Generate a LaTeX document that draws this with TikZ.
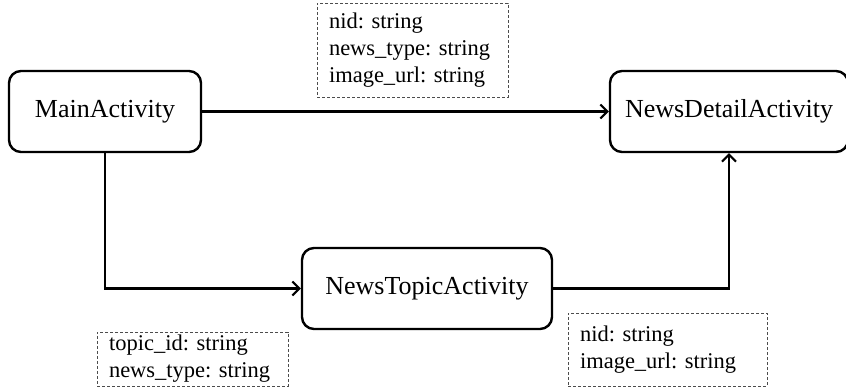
\documentclass[tikz,border=0pt]{standalone}
\usepackage{fontspec}
\setmainfont{Liberation Serif}
\usetikzlibrary{arrows.meta,positioning}
\frenchspacing

\begin{document}
\begin{tikzpicture}[x=1pt, y=-1pt,
    activity/.style={draw, line width=2.4pt, rounded corners=12pt, minimum height=81pt,
        font=\fontsize{26}{31}\selectfont},
    param/.style={draw=black!70, densely dashed, line width=0.8pt, inner xsep=12pt,
        align=left, font=\fontsize{22.5}{27}\selectfont},
    conn/.style={line width=2.4pt, -{Straight Barb[length=7pt, width=14pt, line width=2pt]}}]
    \useasboundingbox (0,0) rectangle (846,390);

    % activities
    \node[activity, minimum width=192pt] (main) at (105, 111.5) {MainActivity};
    \node[activity, minimum width=238pt] (detail) at (729, 111.5) {NewsDetailActivity};
    \node[activity, minimum width=250pt] (topic) at (427, 288.5) {NewsTopicActivity};

    % intent extras
    \node[param, minimum width=191pt, minimum height=94pt, text width=167pt] (extraA) at (412.5, 50)
        {nid: string\\ news\_type: string\\ image\_url: string};
    \node[param, minimum width=191pt, minimum height=54pt, text width=167pt] (extraB) at (192.5, 359)
        {topic\_id: string\\ news\_type: string};
    \node[param, minimum width=199pt, minimum height=73pt, text width=175pt] (extraC) at (667.5, 349.5)
        {nid: string\\ image\_url: string};

    % transitions
    \draw[conn] (main) -- (detail);
    \draw[conn] (main.south) |- (topic.west);
    \draw[conn] (topic.east) -| (detail.south);
\end{tikzpicture}
\end{document}
